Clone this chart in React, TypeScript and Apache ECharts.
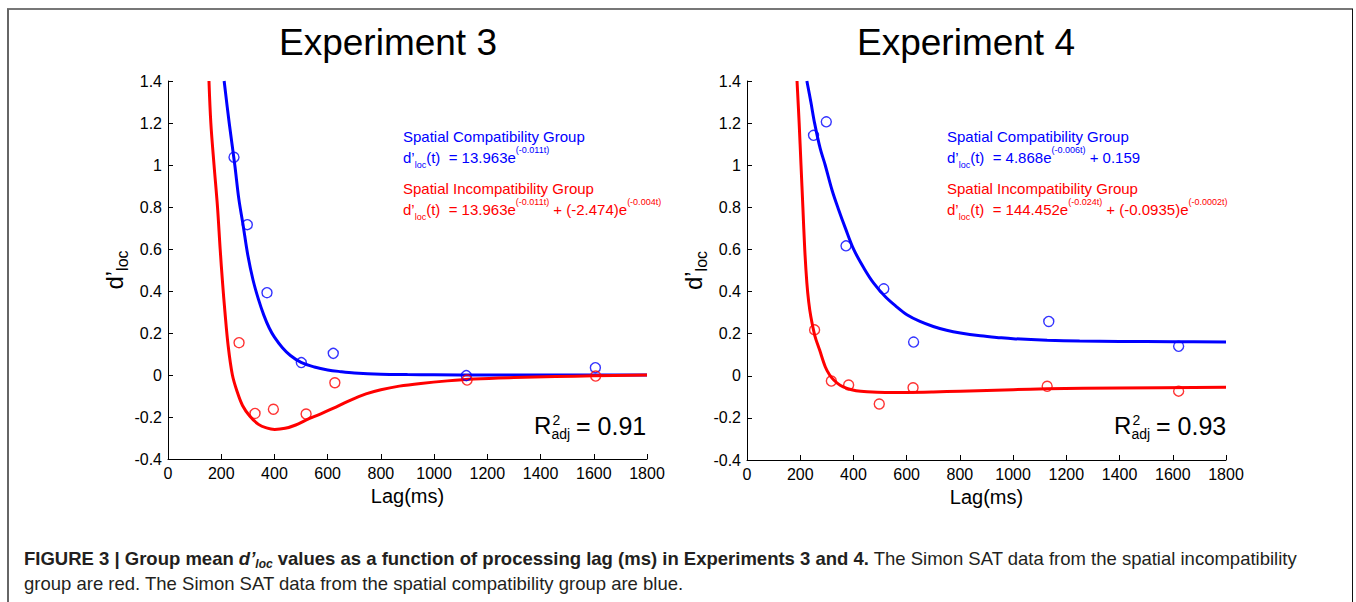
import React, { useEffect, useRef } from "react";
import * as echarts from "echarts";

const FONT = "'Liberation Sans', Arial, Helvetica, sans-serif";
const BLUE = "#0000ff";
const RED = "#ff0000";

// ---------- data ----------
const lagTickMin = 0;
const lagTickMax = 1800;
const dTickMin = -0.4;
const dTickMax = 1.4;

// Experiment 3 – observed group means
const exp3CompatLag = [248, 298, 372, 501, 621, 1121, 1606];
const exp3CompatDp = [1.037, 0.716, 0.392, 0.059, 0.103, -0.003, 0.035];
const exp3IncompatLag = [267, 327, 396, 519, 627, 1124, 1607];
const exp3IncompatDp = [0.154, -0.183, -0.163, -0.186, -0.037, -0.024, -0.005];

// Experiment 3 – fitted curves
const exp3CompatFitLag = [211, 230, 251, 266, 282, 300, 320, 340, 360, 380, 400, 430, 460, 500, 550, 600, 650, 700, 800, 900, 1000, 1200, 1800];
const exp3CompatFitDp = [1.4, 1.2, 1.0, 0.84, 0.716, 0.57, 0.45, 0.36, 0.285, 0.225, 0.18, 0.13, 0.093, 0.06, 0.038, 0.024, 0.016, 0.01, 0.004, 0.002, 0.001, 0, 0];
const exp3IncompatFitLag = [154, 161, 173, 186, 196, 205, 214, 226, 242, 260, 280, 307, 340, 370, 401, 440, 480, 520, 570, 620, 680, 744, 800, 869, 950, 1050, 1150, 1300, 1456, 1600, 1800];
const exp3IncompatFitDp = [1.4, 1.2, 1.0, 0.8, 0.6, 0.44, 0.3, 0.14, 0, -0.08, -0.145, -0.195, -0.235, -0.252, -0.259, -0.254, -0.238, -0.214, -0.187, -0.159, -0.123, -0.09, -0.07, -0.053, -0.04, -0.028, -0.019, -0.012, -0.007, -0.004, 0];

// Experiment 4 – observed group means
const exp4CompatLag = [250, 298, 372, 514, 626, 1134, 1622];
const exp4CompatDp = [1.142, 1.206, 0.617, 0.413, 0.16, 0.258, 0.14];
const exp4IncompatLag = [254, 317, 382, 497, 624, 1128, 1622];
const exp4IncompatDp = [0.218, -0.025, -0.044, -0.134, -0.057, -0.05, -0.073];

// Experiment 4 – fitted curves
const exp4CompatFitLag = [225, 240, 254, 275, 294, 320, 344, 370, 401, 440, 476, 520, 560, 601, 650, 700, 750, 802, 877, 950, 1000, 1128, 1250, 1400, 1600, 1800];
const exp4CompatFitDp = [1.4, 1.3, 1.2, 1.08, 1.0, 0.88, 0.79, 0.7, 0.6, 0.51, 0.44, 0.375, 0.33, 0.29, 0.258, 0.234, 0.216, 0.203, 0.19, 0.181, 0.176, 0.169, 0.165, 0.163, 0.162, 0.161];
const exp4IncompatFitLag = [188, 196, 203, 210, 217, 225, 232, 240, 255, 273, 294, 310, 326, 350, 376, 410, 451, 520, 600, 700, 802, 1000, 1128, 1400, 1800];
const exp4IncompatFitDp = [1.4, 1.2, 1.0, 0.8, 0.6, 0.44, 0.35, 0.28, 0.19, 0.122, 0.043, 0.005, -0.02, -0.045, -0.06, -0.071, -0.076, -0.079, -0.079, -0.077, -0.073, -0.066, -0.062, -0.058, -0.055];

const titles = ["Experiment 3", "Experiment 4"];
const rValues = ["0.91", "0.93"];
const compatLabel = "Spatial Compatibility Group";
const incompatLabel = "Spatial Incompatibility Group";
const exp3CompatFormula = "{m|d’}{s|loc}{m|(t)  = 13.963e}{p|(-0.011t)}";
const exp3IncompatFormula = "{m|d’}{s|loc}{m|(t)  = 13.963e}{p|(-0.011t)}{m| + (-2.474)e}{p|(-0.004t)}";
const exp4CompatFormula = "{m|d’}{s|loc}{m|(t)  = 4.868e}{p|(-0.006t)}{m| + 0.159}";
const exp4IncompatFormula = "{m|d’}{s|loc}{m|(t)  = 144.452e}{p|(-0.024t)}{m| + (-0.0935)e}{p|(-0.0002t)}";
const captionLine1 =
  "{b|FIGURE 3 | Group mean }{bi|d’}{bis|loc}{b| values as a function of processing lag (ms) in Experiments 3 and 4.}{n| The Simon SAT data from the spatial incompatibility}";
const captionLine2 = "group are red. The Simon SAT data from the spatial compatibility group are blue.";

const zip = (xs: number[], ys: number[]) => xs.map((x, i) => [x, ys[i]]);

// ---------- layout ----------
const grids = [
  { left: 168, top: 81, width: 479, height: 378 },
  { left: 747, top: 81, width: 479, height: 379 },
];

const annRich = (color: string) => ({
  m: { fontSize: 15, lineHeight: 24, fill: color, fontFamily: FONT },
  s: { fontSize: 9, lineHeight: 8, verticalAlign: "bottom", fill: color, fontFamily: FONT },
  p: { fontSize: 9, lineHeight: 16, verticalAlign: "top", fill: color, fontFamily: FONT },
});

function plainText(text: string, x: number, y: number, fontSize: number, fill: string, align = "left") {
  return {
    type: "text",
    x,
    y,
    silent: true,
    style: { text, fontSize, fontFamily: FONT, fill, align, verticalAlign: "middle" },
  };
}

function richText(text: string, x: number, y: number, rich: any) {
  return {
    type: "text",
    x,
    y,
    silent: true,
    style: { text, rich, fontFamily: FONT, align: "left", verticalAlign: "middle" },
  };
}

function rSquared(x: number, value: string) {
  return [
    plainText("R", x, 425.5, 24, "#000"),
    plainText("2", x + 18.5, 420, 14, "#000"),
    plainText("adj", x + 17.5, 434, 14, "#000"),
    plainText("= " + value, x + 42, 425.5, 25, "#000"),
  ];
}

export default function App() {
  const ref = useRef<HTMLDivElement>(null);

  useEffect(() => {
    if (!ref.current) return;
    const chart = echarts.init(ref.current, undefined, { renderer: "svg" });

    const xAxis = [0, 1].map((i) => ({
      type: "value",
      gridIndex: i,
      min: lagTickMin,
      max: lagTickMax,
      interval: 200,
      name: "Lag(ms)",
      nameLocation: "middle",
      nameGap: 22,
      nameTextStyle: { fontSize: 20, color: "#000", fontFamily: FONT },
      axisLine: { onZero: false, lineStyle: { color: "#000", width: 1 } },
      axisTick: { inside: true, length: 5, lineStyle: { color: "#000", width: 1 } },
      axisLabel: { fontSize: 16, color: "#000", margin: 6, fontFamily: FONT, formatter: (v: number) => String(v) },
      splitLine: { show: false },
    }));

    const yAxis = [0, 1].map((i) => ({
      type: "value",
      gridIndex: i,
      min: dTickMin,
      max: dTickMax,
      interval: 0.2,
      name: "{m|d’}{s|loc}",
      nameLocation: "middle",
      nameRotate: 90,
      nameGap: 10,
      nameTextStyle: {
        color: "#000",
        rich: {
          m: { fontSize: 24, lineHeight: 32, color: "#000", fontFamily: FONT },
          s: { fontSize: 16, lineHeight: 10, verticalAlign: "bottom", color: "#000", fontFamily: FONT },
        },
      },
      axisLine: { onZero: false, lineStyle: { color: "#000", width: 1 } },
      axisTick: { inside: true, length: 5, lineStyle: { color: "#000", width: 1 } },
      axisLabel: {
        fontSize: 16,
        color: "#000",
        margin: 6,
        fontFamily: FONT,
        formatter: (v: number) => String(Math.round(v * 10) / 10),
      },
      splitLine: { show: false },
    }));

    const fitLine = (axis: number, xs: number[], ys: number[], color: string, z: number) => ({
      type: "line",
      xAxisIndex: axis,
      yAxisIndex: axis,
      data: zip(xs, ys),
      symbol: "none",
      showSymbol: false,
      smooth: 0.35,
      lineStyle: { color, width: 3 },
      z,
      silent: true,
    });

    const points = (axis: number, xs: number[], ys: number[], color: string) => ({
      type: "scatter",
      xAxisIndex: axis,
      yAxisIndex: axis,
      data: zip(xs, ys),
      symbol: "circle",
      symbolSize: 10,
      itemStyle: { color: "rgba(255,255,255,0)", borderColor: color, borderWidth: 1.4 },
      z: 5,
      silent: true,
    });

    const option = {
      animation: false,
      textStyle: { fontFamily: FONT },
      grid: grids,
      xAxis,
      yAxis,
      series: [
        fitLine(0, exp3CompatFitLag, exp3CompatFitDp, BLUE, 2),
        fitLine(0, exp3IncompatFitLag, exp3IncompatFitDp, RED, 3),
        points(0, exp3CompatLag, exp3CompatDp, BLUE),
        points(0, exp3IncompatLag, exp3IncompatDp, RED),
        fitLine(1, exp4CompatFitLag, exp4CompatFitDp, BLUE, 2),
        fitLine(1, exp4IncompatFitLag, exp4IncompatFitDp, RED, 3),
        points(1, exp4CompatLag, exp4CompatDp, BLUE),
        points(1, exp4IncompatLag, exp4IncompatDp, RED),
      ],
      graphic: [
        // figure border
        { type: "line", silent: true, shape: { x1: 7, y1: 9, x2: 1353, y2: 9 }, style: { stroke: "#777", lineWidth: 2 } },
        { type: "line", silent: true, shape: { x1: 8, y1: 9, x2: 8, y2: 602 }, style: { stroke: "#666", lineWidth: 2 } },
        { type: "line", silent: true, shape: { x1: 1352.5, y1: 9, x2: 1352.5, y2: 602 }, style: { stroke: "#111", lineWidth: 1 } },
        // titles
        plainText(titles[0], 388, 42, 37, "#000", "center"),
        plainText(titles[1], 966, 42, 37, "#000", "center"),
        // annotations Exp 3
        plainText(compatLabel, 403, 136, 15, BLUE),
        richText(exp3CompatFormula, 403, 157, annRich(BLUE)),
        plainText(incompatLabel, 403, 188, 15, RED),
        richText(exp3IncompatFormula, 403, 209, annRich(RED)),
        // annotations Exp 4
        plainText(compatLabel, 947, 136, 15, BLUE),
        richText(exp4CompatFormula, 947, 157, annRich(BLUE)),
        plainText(incompatLabel, 947, 188, 15, RED),
        richText(exp4IncompatFormula, 947, 209, annRich(RED)),
        // R^2 adj
        ...rSquared(534, rValues[0]),
        ...rSquared(1114, rValues[1]),
        // caption
        richText(captionLine1, 24, 558, {
          b: { fontSize: 18.5, fontWeight: "bold", lineHeight: 24, fill: "#231f20", fontFamily: FONT },
          bi: { fontSize: 18.5, fontWeight: "bold", fontStyle: "italic", lineHeight: 24, fill: "#231f20", fontFamily: FONT },
          bis: { fontSize: 12, fontWeight: "bold", fontStyle: "italic", lineHeight: 10, verticalAlign: "bottom", fill: "#231f20", fontFamily: FONT },
          n: { fontSize: 18.5, lineHeight: 24, fill: "#231f20", fontFamily: FONT },
        }),
        plainText(captionLine2, 24, 583, 18.5, "#231f20"),
      ],
    };

    chart.setOption(option as any);
    return () => chart.dispose();
  }, []);

  return (
    <div
      ref={ref}
      style={{ position: "fixed", left: 0, top: 0, width: 1356, height: 602, background: "#fff" }}
    />
  );
}
